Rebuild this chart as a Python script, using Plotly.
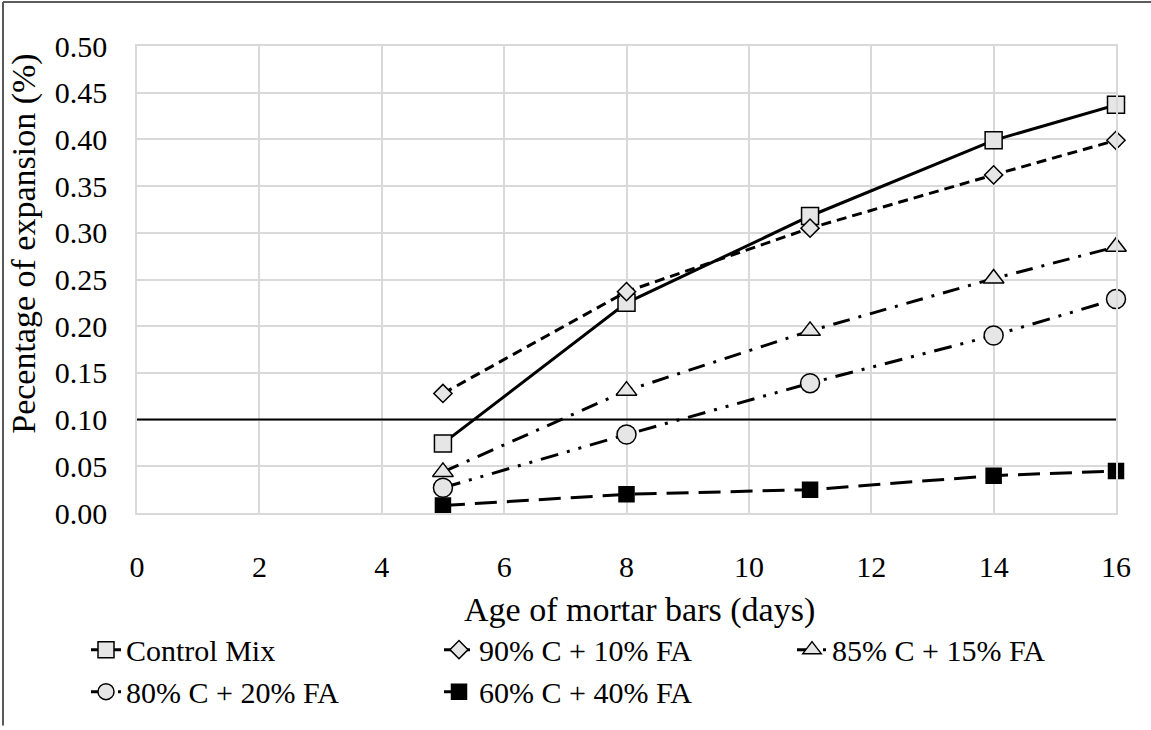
import plotly.graph_objects as go

# Mortar-bar expansion measurements
age_days = [5, 8, 11, 14, 16]

control_mix = [0.0745, 0.225, 0.318, 0.399, 0.437]
c90_fa10 = [0.128, 0.237, 0.305, 0.362, 0.399]
c85_fa15 = [0.044, 0.131, 0.195, 0.251, 0.285]
c80_fa20 = [0.027, 0.084, 0.139, 0.190, 0.229]
c60_fa40 = [0.008, 0.020, 0.025, 0.040, 0.045]

series_names = [
    "Control Mix",
    "90% C + 10% FA",
    "85% C + 15% FA",
    "80% C + 20% FA",
    "60% C + 40% FA",
]

x_ticks = [0, 2, 4, 6, 8, 10, 12, 14, 16]
y_ticks = [0.00, 0.05, 0.10, 0.15, 0.20, 0.25, 0.30, 0.35, 0.40, 0.45, 0.50]
expansion_limit = 0.10

FONT = "Liberation Serif"
FS = 30
FS_TITLE = 34
LIGHT = "#e6e6e6"

styles = [
    dict(values=control_mix, dash="solid", symbol="square", size=17, fill=LIGHT),
    dict(values=c90_fa10, dash="10px,6px", symbol="diamond", size=14, fill=LIGHT),
    dict(values=c85_fa15, dash="17px,9px,3px,9px", symbol="triangle-up", size=18, fill=LIGHT),
    dict(values=c80_fa20, dash="18px,9px,3px,9px,3px,9px", symbol="circle", size=19, fill=LIGHT),
    dict(values=c60_fa40, dash="22px,10px", symbol="square", size=15, fill="black"),
]

fig = go.Figure()
for name, st in zip(series_names, styles):
    fig.add_trace(go.Scatter(
        x=age_days, y=st["values"], name=name, mode="lines+markers",
        cliponaxis=False,
        line=dict(color="black", width=3, dash=st["dash"]),
        marker=dict(symbol=st["symbol"], size=st["size"], color=st["fill"],
                    line=dict(color="black", width=1.5)),
    ))

L, R, T, B = 137, 35, 46, 207
W, H = 1151, 730
pw, ph = W - L - R, H - T - B

def px_x(px):
    return (px - L) / pw

def px_y(py):
    return (H - B - py) / ph

# 0.10 % expansion limit
fig.add_shape(type="line", xref="x", yref="y", x0=0, x1=16,
              y0=expansion_limit, y1=expansion_limit,
              line=dict(color="black", width=2), layer="between")

# outer chart-area frame (top and left edges)
fig.add_shape(type="line", xref="paper", yref="paper",
              x0=px_x(3), x1=px_x(1160), y0=px_y(1), y1=px_y(1),
              line=dict(color="#262626", width=1.5))
fig.add_shape(type="line", xref="paper", yref="paper",
              x0=px_x(3), x1=px_x(3), y0=px_y(1), y1=px_y(740),
              line=dict(color="#595959", width=2))

fig.add_annotation(text="Age of mortar bars (days)", xref="paper", yref="paper",
                   x=px_x(639), y=px_y(622), xanchor="center", yanchor="middle",
                   showarrow=False,
                   font=dict(family=FONT, size=FS_TITLE, color="black"))
fig.add_annotation(text="Pecentage of expansion (%)", xref="paper", yref="paper",
                   x=px_x(24), y=px_y(248), xanchor="center", yanchor="middle",
                   showarrow=False, textangle=-90,
                   font=dict(family=FONT, size=FS_TITLE, color="black"))

fig.update_xaxes(range=[0, 16], tickvals=x_ticks, showgrid=True,
                 gridcolor="#d9d9d9", gridwidth=1.5, zeroline=False,
                 showline=True, mirror=True, linecolor="#d9d9d9", linewidth=1.5,
                 ticks="outside", ticklen=26, tickcolor="rgba(0,0,0,0)",
                 tickfont=dict(family=FONT, size=FS, color="black"))
fig.update_yaxes(range=[0, 0.5], tickvals=y_ticks, tickformat=".2f", showgrid=True,
                 gridcolor="#d9d9d9", gridwidth=1.5, zeroline=False,
                 showline=True, mirror=True, linecolor="#d9d9d9", linewidth=1.5,
                 ticks="outside", ticklen=22, tickcolor="rgba(0,0,0,0)",
                 tickfont=dict(family=FONT, size=FS, color="black"))

fig.update_layout(
    width=W, height=H,
    margin=dict(l=L, r=R, t=T, b=B),
    paper_bgcolor="white", plot_bgcolor="white",
    font=dict(family=FONT, size=FS, color="black"),
    showlegend=True,
    legend=dict(orientation="h", x=px_x(86), y=px_y(636), xanchor="left", yanchor="top",
                entrywidth=308, entrywidthmode="pixels", tracegroupgap=0,
                font=dict(family=FONT, size=FS, color="black"),
                bgcolor="rgba(0,0,0,0)"),
)

fig.write_html("out.html")
